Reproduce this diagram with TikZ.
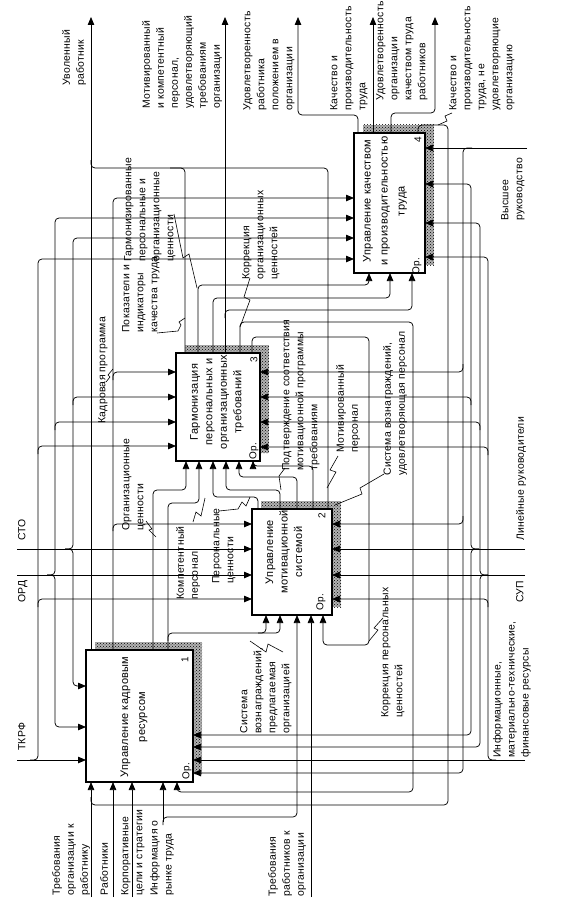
\documentclass[tikz,border=0pt]{standalone}
\usepackage{fontspec}
\setmainfont{Liberation Sans}
\newfontfamily\lf[LetterSpace=3]{Liberation Sans}
\usetikzlibrary{arrows.meta,patterns}
\begin{document}
\begin{tikzpicture}[x=1pt,y=-1pt,
  lab/.style={rotate=90,anchor=north west,align=left,inner sep=0pt,font=\lf\fontsize{10.4}{14}\selectfont},
  btxt/.style={rotate=90,align=center,inner sep=0pt,font=\lf\fontsize{11}{#1}\selectfont},
  btxt/.default=15,
  num/.style={rotate=90,inner sep=0pt,font=\lf\fontsize{10}{11}\selectfont},
  box/.style={draw,line width=1.7pt,fill=white,inner sep=0pt,outer sep=0pt},
  shad/.style={pattern=crosshatch dots,pattern color=black},
  ln/.style={line width=0.75pt,rounded corners=4pt},
  arr/.style={ln,-{Triangle[length=8pt,width=6.5pt]}},
  lead/.style={line width=0.6pt},
]
\useasboundingbox (0,0) rectangle (562,915);
\fill[white] (0,0) rectangle (562,915);

% shadows
\fill[black!30] (95,642) rectangle (202,774);
\fill[black!30] (261,501) rectangle (341,607);
\fill[black!30] (185,345) rectangle (269,453);
\fill[black!30] (363,125) rectangle (434,265);
\fill[shad] (95,642) rectangle (202,774);
\fill[shad] (261,501) rectangle (341,607);
\fill[shad] (185,345) rectangle (269,453);
\fill[shad] (363,125) rectangle (434,265);

% boxes
\node[box,minimum width=107pt,minimum height=132pt] (b1) at (139.5,716) {};
\node[box,minimum width=80pt,minimum height=106pt] (b2) at (292,562) {};
\node[box,minimum width=84pt,minimum height=108pt] (b3) at (218,407) {};
\node[box,minimum width=71pt,minimum height=140pt] (b4) at (389.5,203) {};

\node[btxt=17] (t1) at (134,717) {Управление кадровым\\ресурсом};
\node[btxt=14.5] (t2) at (284,552) {Управление\\мотивационной\\системой};
\node[btxt=14.5] (t3) at (217,402) {Гармонизация\\персональных и\\организационных\\требований};
\node[btxt=17] (t4) at (385,201) {Управление качеством\\и производительностью\\труда};

\node[num] (n1) at (185,660) {1}; \node[num] (o1) at (187,771) {Ор.};
\node[num] (n2) at (322,516) {2}; \node[num] (o2) at (321,602) {Ор.};
\node[num] (n3) at (254,360) {3}; \node[num] (o3) at (254,451) {Ор.};
\node[num] (n4) at (418,140) {4}; \node[num] (o4) at (417,266) {Ор.};

% external points
\coordinate (tkrf) at (17,760);
\coordinate (ord) at (17,575);
\coordinate (sto) at (17,549);
\coordinate (vr) at (527,148);
\coordinate (lr) at (525,549);
\coordinate (sup) at (525,575);
\coordinate (inf) at (525,760);
\coordinate (in1) at (91,897);
\coordinate (in2) at (113,897);
\coordinate (in3) at (132,897);
\coordinate (in4) at (163,822);
\coordinate (in5) at (311,897);

% top outputs
\draw[arr] (b1.north -| 91,0) -- (91,17);
\draw[ln] (b2.north -| 328,0) |- (91,168) -- (91,160);
\draw[ln] (b3.north -| 185,0) |- (170,168);
\draw[arr] (b3.north -| 225,0) -- (225,17);
\draw[arr] (b4.north -| 358,0) |- (298,115) -- (298,17);
\draw[arr] (b4.north -| 373,0) -- (373,17);
\draw[arr] (b4.north -| 391,0) |- (435,113) -- (435,17);
\draw[ln] (b4.north -| 418,0) |- (448,125) |- (91,805) -- (91,797);

% box 3 outputs
\draw[arr] (b3.north -| 198,0) |- (369,285) -- (b4.south -| 369,0);
\draw[arr] (b3.north -| 213,0) |- (390,298) -- (b4.south -| 390,0);
\draw[arr] (225,318) |- (412,310) -- (b4.south -| 412,0);
\draw[arr] (b3.north -| 240,0) |- (413,322) |- (177,792) -- (b1.south -| 177,0);
\draw[arr] (b3.north -| 252,0) |- (369,337) |- (323,645) -- (b2.south -| 323,0);

% box 1 outputs
\draw[arr] (b1.north -| 113,0) |- (b4.west |- 0,198);
\draw[arr] (113,531) |- (b2.west |- 0,524);
\draw[arr] (113,380) |- (b3.west |- 0,372);
\draw[arr] (b1.north -| 153,0) |- (186,490) -- (b3.south -| 186,0);
\draw[arr] (b1.north -| 168,0) |- (199,503) -- (b3.south -| 199,0);
\draw[arr] (168,641) |- (266,633) -- (b2.south -| 266,0);
\draw[arr] (258,633) -| (b2.south -| 280,0);

% box 2 outputs
\draw[arr] (b2.north -| 258,0) |- (213,497) -- (b3.south -| 213,0);
\draw[arr] (b2.north -| 280,0) |- (226,490) -- (b3.south -| 226,0);
\draw[arr] (b2.north -| 297,0) |- (239,477) -- (b3.south -| 239,0);
\draw[arr] (b2.north -| 313,0) |- (253,466) -- (b3.south -| 253,0);

% controls
\draw[arr] (tkrf) -- (b1.west |- 0,760);
\draw[arr] (30,760) -| (38,259) -- (b4.west |- 0,259);
\draw[arr] (38,607) |- (b2.west |- 0,599);
\draw[arr] (38,454) |- (b3.west |- 0,446);
\draw[arr] (ord) -- (b2.west |- 0,575);
\draw[arr] (47,575) -| (55,218) -- (b4.west |- 0,218);
\draw[arr] (55,430) |- (b3.west |- 0,422);
\draw[arr] (47,575) -| (55,727) -- (b1.west |- 0,727);
\draw[arr] (sto) -- (b2.west |- 0,549);
\draw[arr] (65,549) -| (73,238) -- (b4.west |- 0,238);
\draw[arr] (73,405) |- (b3.west |- 0,397);
\draw[arr] (65,549) -| (73,686) -- (b1.west |- 0,686);

% mechanisms
\draw[arr] (vr) -- (b4.east |- 0,148);
\draw[arr] (472,148) -| (463,773) -- (b1.east |- 0,773);
\draw[arr] (463,364) |- (b3.east |- 0,372);
\draw[arr] (463,516) |- (b2.east |- 0,524);
\draw[arr] (lr) -- (b2.east |- 0,549);
\draw[arr] (479,549) -| (471,184) -- (b4.east |- 0,184);
\draw[arr] (471,405) |- (b3.east |- 0,397);
\draw[arr] (479,549) -| (471,735) -- (b1.east |- 0,735);
\draw[arr] (sup) -- (b2.east |- 0,575);
\draw[arr] (488,575) -| (480,223) -- (b4.east |- 0,223);
\draw[arr] (480,430) |- (b3.east |- 0,422);
\draw[arr] (488,575) -| (480,747) -- (b1.east |- 0,747);
\draw[arr] (inf) -- (b1.east |- 0,760);
\draw[arr] (496,760) -| (488,257) -- (b4.east |- 0,257);
\draw[arr] (488,455) |- (b3.east |- 0,447);
\draw[arr] (488,607) |- (b2.east |- 0,599);

% inputs
\draw[arr] (in1) -- (b1.south -| 91,0);
\draw[arr] (in2) -- (b1.south -| 113,0);
\draw[arr] (in3) -- (b1.south -| 132,0);
\draw[arr] (in4) -- (b1.south -| 163,0);
\draw[arr] (163,825) |- (297,817) -- (b2.south -| 297,0);
\draw[arr] (in5) -- (b2.south -| 311,0);

% labels
\node[lab] (l1) at (52,896) {Требования\\организации к\\работнику};
\node[lab] (l2) at (100,896) {Работники};
\node[lab] (l3) at (121,896) {Корпоративные\\цели и стратегии};
\node[lab] (l4) at (150,896) {Информация о\\рынке труда};
\node[lab] (l5) at (268,897) {Требования\\работников к\\организации};
\node[lab] (l6) at (18,751) {ТКРФ};
\node[lab] (l7) at (18,603) {ОРД};
\node[lab] (l8) at (18,541) {СТО};
\node[lab] (l9) at (62,86) {Уволенный\\работник};
\node[lab] (l10) at (142,109) {Мотивированный\\и компетентный\\персонал,\\удовлетворяющий\\требованиям\\организации};
\node[lab] (l11) at (243,111) {Удовлетворенность\\работника\\положением в\\организации};
\node[lab] (l12) at (330,111) {Качество и\\производительность\\труда};
\node[lab] (l13) at (376,101) {Удовлетворенность\\организации\\качеством труда\\работников};
\node[lab] (l14) at (449,111) {Качество и\\производительность\\труда, не\\удовлетворяющие\\организацию};
\node[lab] (l15) at (501,221) {Высшее\\руководство};
\node[lab] (l16) at (516,541) {Линейные руководители};
\node[lab] (l17) at (516,603) {СУП};
\node[lab] (l18) at (493,758) {Информационные,\\материально-технические,\\финансовые ресурсы};
\node[lab] (l19) at (124,262) {Гармонизированные\\персональные и\\организационные\\ценности};
\node[lab] (l20) at (122,333) {Показатели и\\индикаторы\\качества труда};
\node[lab] (l21) at (98,424) {Кадровая программа};
\node[lab] (l22) at (122,531) {Организационные\\ценности};
\node[lab] (l23) at (242,280) {Коррекция\\организационных\\ценностей};
\node[lab] (l24) at (176,600) {Компетентный\\персонал};
\node[lab] (l25) at (212,584) {Персональные\\ценности};
\node[lab] (l26) at (240,734) {Система\\вознаграждений,\\предлагаемая\\организацией};
\node[lab] (l27) at (282,471) {Подтверждение соответствия\\мотивационной программы\\требованиям};
\node[lab] (l28) at (336,453) {Мотивированный\\персонал};
\node[lab] (l29) at (383,476) {Система вознаграждений,\\удовлетворяющая персонал};
\node[lab] (l30) at (381,718) {Коррекция персональных\\ценностей};

% leaders (squiggles)
\draw[lead] (106,382) -- (110,377) -- (108,375) -- (113,369);
\draw[lead] (146,521) -- (152,529) -- (149,530) -- (156,537);
\draw[lead] (157,333) -- (178,331) -- (181,325) -- (179,322) -- (185,318);
\draw[lead] (174,214) -- (183,258) -- (189,254) -- (197,288);
\draw[lead] (250,278) -- (244,297) -- (250,300) -- (240,327);
\draw[lead] (283,652) -- (268,644) -- (266,652) -- (250,641);
\draw[lead] (383,618) -- (374,628) -- (378,630) -- (369,641);
\draw[lead] (193,522) -- (196,512) -- (201,516) -- (205,498);
\draw[lead] (219,511) -- (238,509) -- (242,502) -- (246,506) -- (250,497);
\draw[lead] (285,468) -- (279,476) -- (281,490);
\draw[lead] (338,456) -- (330,470) -- (336,472) -- (327,488);
\draw[lead] (384,474) -- (360,488) -- (362,494) -- (335,505);
\draw[lead] (452,113) -- (445,116) -- (447,121) -- (438,125);
\end{tikzpicture}
\end{document}
